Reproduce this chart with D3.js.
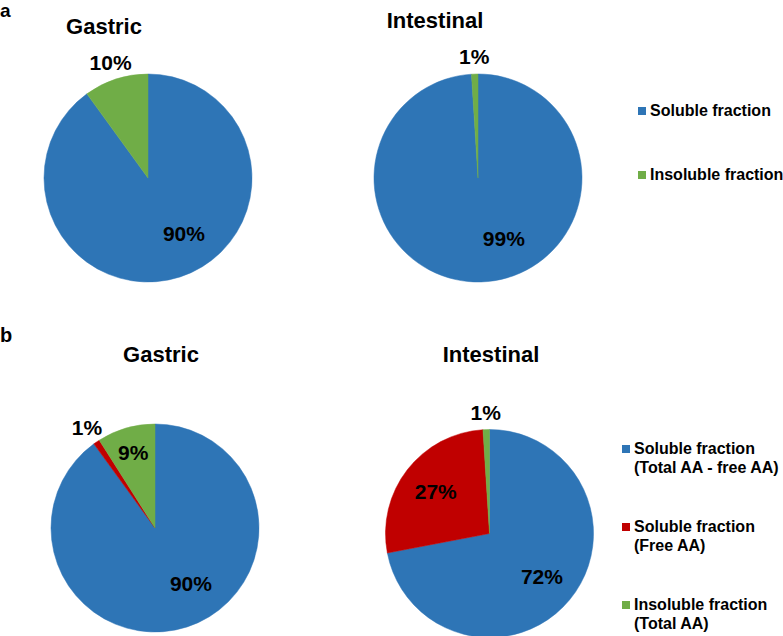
<!doctype html>
<html>
<head>
<meta charset="UTF-8">
<title>Fractions</title>
<script src="https://d3js.org/d3.v7.min.js"></script>
<style>
	body {
		margin: 0;
		background: #fff;
	}
	.chart text {
		font-family: "Liberation Sans", Arial, sans-serif;
		font-weight: bold;
		fill: #000;
	}
</style>
</head>

<body>
<svg class="chart" width="783" height="636"></svg>
<script>
// panel a: two fractions
var seriesA = ['Soluble fraction', 'Insoluble fraction'];
var gastricA = [90, 10];
var intestinalA = [99, 1];

// panel b: three fractions
var seriesB = [
	['Soluble fraction', '(Total AA - free AA)'],
	['Soluble fraction', '(Free AA)'],
	['Insoluble fraction', '(Total AA)']
];
var gastricB = [90, 1, 9];
var intestinalB = [72, 27, 1];

var colorsA = ['#2e75b6', '#70ad47'];
var colorsB = ['#2e75b6', '#c00000', '#70ad47'];

var chart = d3.select('.chart');
var radius = 104;

var pies = [
	{title: 'Gastric', values: gastricA, colors: colorsA, cx: 148, cy: 178, tx: 104, ty: 34, bigAngle: 147},
	{title: 'Intestinal', values: intestinalA, colors: colorsA, cx: 478, cy: 178, tx: 435, ty: 28, bigAngle: 157},
	{title: 'Gastric', values: gastricB, colors: colorsB, cx: 155, cy: 528, tx: 161, ty: 362, bigAngle: 147},
	{title: 'Intestinal', values: intestinalB, colors: colorsB, cx: 489.5, cy: 533.5, tx: 491, ty: 362, bigAngle: null}
];

var pie = d3.pie().sort(null).value(function(d) { return d; });
var arc = d3.arc().innerRadius(0).outerRadius(radius);

pies.forEach(function(p) {
	var g = chart.append('g')
		.attr('transform', 'translate(' + p.cx + ',' + p.cy + ')');
	var arcs = pie(p.values);
	g.selectAll('path')
		.data(arcs)
		.enter().append('path')
		.attr('d', arc)
		.attr('fill', function(d, i) { return p.colors[i]; })
		.attr('stroke', function(d, i) { return p.colors[i]; })
		.attr('stroke-width', 0.5);
	g.selectAll('.lbl')
		.data(arcs)
		.enter().append('text')
		.attr('class', 'lbl')
		.attr('text-anchor', 'middle')
		.attr('dy', '0.35em')
		.style('font-size', '21px')
		.attr('transform', function(d) {
			var a = (d.startAngle + d.endAngle) / 2;
			var r;
			var share = d.data / d3.sum(p.values);
			if (share < 0.05) {
				r = 121;
			} else if (share < 0.15) {
				r = 78;
			} else {
				r = 68;
			}
			if (share >= 0.85 && p.bigAngle !== null) {
				a = p.bigAngle * Math.PI / 180;
				r = 66;
			}
			if (share < 0.15 && share >= 0.05 && p.values.length === 2) {
				r = 121;
			}
			return 'translate(' + (r * Math.sin(a)) + ',' + (-r * Math.cos(a)) + ')';
		})
		.text(function(d) { return d.data + '%'; });
	chart.append('text')
		.attr('x', p.tx)
		.attr('y', p.ty)
		.attr('text-anchor', 'middle')
		.style('font-size', '22px')
		.text(p.title);
});

// panel letters
chart.append('text').attr('x', 0).attr('y', 17).style('font-size', '19px').text('a');
chart.append('text').attr('x', 0).attr('y', 342).style('font-size', '20px').text('b');

// legend a
var legA = chart.append('g').attr('transform', 'translate(638,116)');
var itemA = legA.selectAll('g')
	.data(seriesA)
	.enter().append('g')
	.attr('transform', function(d, i) { return 'translate(0,' + (i * 64) + ')'; });
itemA.append('rect')
	.attr('x', 0).attr('y', -9).attr('width', 8).attr('height', 8)
	.attr('fill', function(d, i) { return colorsA[i]; });
itemA.append('text')
	.attr('x', 12)
	.style('font-size', '16px')
	.text(function(d) { return d; });

// legend b
var legB = chart.append('g').attr('transform', 'translate(622,454)');
var itemB = legB.selectAll('g')
	.data(seriesB)
	.enter().append('g')
	.attr('transform', function(d, i) { return 'translate(0,' + (i * 78) + ')'; });
itemB.append('rect')
	.attr('x', 0).attr('y', -9).attr('width', 8).attr('height', 8)
	.attr('fill', function(d, i) { return colorsB[i]; });
itemB.append('text')
	.attr('x', 12)
	.style('font-size', '16px')
	.selectAll('tspan')
	.data(function(d) { return d; })
	.enter().append('tspan')
	.attr('x', 12)
	.attr('dy', function(d, i) { return i === 0 ? 0 : 19; })
	.text(function(d) { return d; });
</script>
</body>
</html>
